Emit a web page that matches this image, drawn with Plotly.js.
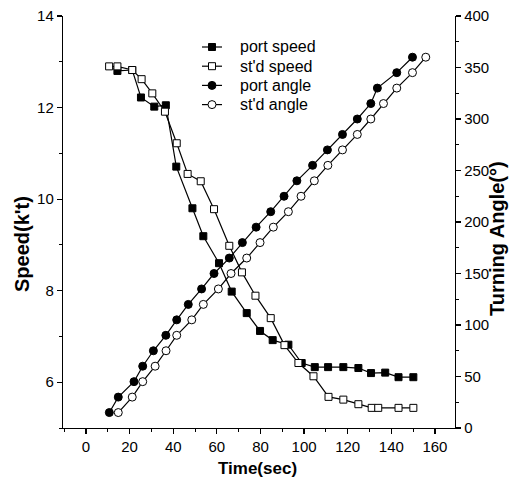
<!DOCTYPE html>
<html>
<head>
<meta charset="utf-8">
<script src="https://cdn.plot.ly/plotly-3.0.1.min.js"></script>
<style>
html,body{margin:0;padding:0;background:#fff;}
#chart{width:511px;height:484px;}
</style>
</head>
<body>
<div id="chart"></div>
<script>
// ---- data ----
var seriesNames = ["port speed", "st'd speed", "port angle", "st'd angle"];

var portSpeedTime = [14.4, 21.2, 25.2, 31.3, 36.6, 41.4, 48.8, 53.8, 61.0, 66.8, 73.7, 79.8, 85.6, 92.8, 98.9, 104.9, 111.0, 118.0, 124.9, 130.7, 137.2, 143.3, 150.1];
var portSpeed     = [12.80, 12.82, 12.22, 12.02, 12.05, 10.71, 9.80, 9.19, 8.60, 7.98, 7.51, 7.12, 6.92, 6.82, 6.42, 6.33, 6.33, 6.33, 6.31, 6.20, 6.21, 6.11, 6.11];

var stdSpeedTime = [10.6, 14.4, 21.2, 25.5, 30.4, 36.2, 41.6, 46.6, 52.6, 58.7, 65.7, 71.5, 77.7, 84.7, 91.0, 97.4, 104.3, 111.2, 118.0, 124.9, 131.0, 134.0, 143.3, 150.1];
var stdSpeed     = [12.90, 12.90, 12.82, 12.62, 12.31, 11.91, 11.22, 10.55, 10.39, 9.78, 8.98, 8.40, 7.89, 7.40, 6.81, 6.42, 6.13, 5.68, 5.62, 5.52, 5.44, 5.44, 5.44, 5.44];

var portAngleTime = [10.7, 14.8, 22.0, 26.0, 30.9, 36.6, 41.6, 46.9, 53.0, 58.7, 65.7, 71.7, 78.0, 84.7, 90.8, 96.7, 103.9, 110.7, 117.6, 124.4, 130.6, 133.6, 142.5, 149.7];
var portAngle     = [15, 30, 45, 60, 75, 90, 105, 120, 135, 150, 165, 180, 195, 210, 225, 240, 255, 270, 285, 300, 315, 330, 345, 360];

var stdAngleTime = [14.8, 21.2, 26.0, 31.7, 36.7, 41.6, 48.5, 53.8, 60.7, 66.5, 73.7, 79.8, 85.9, 92.8, 98.6, 104.7, 110.9, 117.6, 124.4, 130.6, 136.4, 142.5, 149.7, 155.8];
var stdAngle     = [15, 30, 45, 60, 75, 90, 105, 120, 135, 150, 165, 180, 195, 210, 225, 240, 255, 270, 285, 300, 315, 330, 345, 360];

var xTitle = "Time(sec)";
var yTitle = "Speed(k't)";
var y2Title = "Turning Angle(\u00b0)";

// ---- styling ----
var narrow = "'Liberation Sans Narrow', 'Arial Narrow', sans-serif";
var sans = "'Liberation Sans', Arial, sans-serif";
var lineStyle = {color: "#000", width: 1.2};
var symbols = ["square", "square", "circle", "circle"];
var fills = ["#000", "#fff", "#000", "#fff"];
var sizes = [7, 7, 8, 8];

var xs = [portSpeedTime, stdSpeedTime, portAngleTime, stdAngleTime];
var ys = [portSpeed, stdSpeed, portAngle, stdAngle];
var traces = seriesNames.map(function (nm, i) {
  return {x: xs[i], y: ys[i], name: nm, type: "scatter", mode: "lines+markers",
          yaxis: i < 2 ? "y" : "y2", line: lineStyle, showlegend: false,
          marker: {symbol: symbols[i], size: sizes[i], color: fills[i], line: {color: "#000", width: 1}}};
});

// plot area in pixels (for placing the hand-made legend)
var W = 511, H = 484, M = {l: 63, r: 56, t: 16, b: 56};
var PW = W - M.l - M.r, PH = H - M.t - M.b;
function px(v) { return (v - M.l) / PW; }
function py(v) { return (H - M.b - v) / PH; }

var shapes = [], annotations = [];
var legX0 = 202, legX1 = 222, legMid = 212, legText = 238, legTop = 47, legStep = 19.2;
seriesNames.forEach(function (nm, i) {
  var yy = legTop + i * legStep;
  shapes.push({type: "line", xref: "paper", yref: "paper", x0: px(legX0), x1: px(legX1), y0: py(yy), y1: py(yy),
               line: {color: "#000", width: 1.2}, layer: "above"});
  var r = sizes[i] / 2;
  shapes.push({type: symbols[i] === "square" ? "rect" : "circle", xref: "paper", yref: "paper",
               x0: px(legMid - r), x1: px(legMid + r), y0: py(yy + r), y1: py(yy - r),
               fillcolor: fills[i], line: {color: "#000", width: 1}, layer: "above"});
  annotations.push({text: nm, xref: "paper", yref: "paper", x: px(legText), y: py(yy),
                    xanchor: "left", yanchor: "middle", showarrow: false,
                    font: {family: sans, size: 16, color: "#000"}});
});

annotations.push(
  {text: xTitle, xref: "paper", yref: "paper", x: 0.497, y: -0.0995, xanchor: "center", yanchor: "middle",
   showarrow: false, font: {family: narrow, size: 17, color: "#000", weight: "bold"}},
  {text: yTitle, xref: "paper", yref: "paper", x: -0.1046, y: 0.4466, xanchor: "center", yanchor: "middle",
   textangle: -90, showarrow: false, font: {family: sans, size: 20, color: "#000", weight: "bold"}},
  {text: y2Title, xref: "paper", yref: "paper", x: px(497), y: 0.4587, xanchor: "center", yanchor: "middle",
   textangle: -90, showarrow: false, font: {family: sans, size: 20, color: "#000", weight: "bold"}}
);

var axisCommon = {
  showline: true, linecolor: "#000", linewidth: 1.2,
  ticks: "outside", ticklen: 5, tickwidth: 1.2, tickcolor: "#000",
  showgrid: false, zeroline: false,
  tickfont: {family: narrow, size: 15, color: "#000"}
};

var layout = {
  width: W, height: H,
  margin: {l: M.l, r: M.r, t: M.t, b: M.b, pad: 0},
  paper_bgcolor: "#fff", plot_bgcolor: "#fff",
  showlegend: false,
  xaxis: Object.assign({}, axisCommon, {
    range: [-10.55, 169.2], tick0: 0, dtick: 20,
    minor: {dtick: 10, ticks: "outside", ticklen: 3, tickwidth: 1, tickcolor: "#000"}
  }),
  yaxis: Object.assign({}, axisCommon, {
    range: [5, 14], tick0: 6, dtick: 2,
    minor: {dtick: 1, ticks: "outside", ticklen: 3, tickwidth: 1, tickcolor: "#000"}
  }),
  yaxis2: Object.assign({}, axisCommon, {
    overlaying: "y", side: "right", range: [0, 400], tick0: 0, dtick: 50,
    minor: {dtick: 25, ticks: "outside", ticklen: 3, tickwidth: 1, tickcolor: "#000"}
  }),
  shapes: shapes,
  annotations: annotations
};

Plotly.newPlot("chart", traces, layout, {displayModeBar: false, staticPlot: true});
</script>
</body>
</html>
